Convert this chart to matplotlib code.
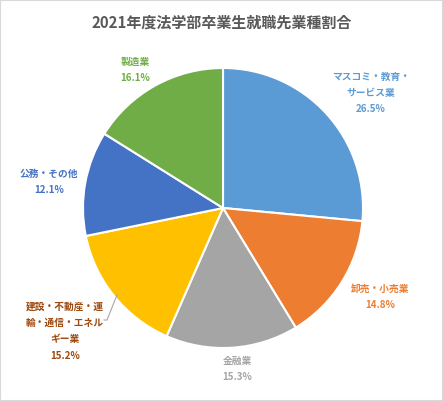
import matplotlib
matplotlib.use("Agg")
import matplotlib.pyplot as plt
from matplotlib.patches import Rectangle

plt.rcParams['font.family'] = ['Noto Sans CJK JP', 'DejaVu Sans']

title = "2021年度法学部卒業生就職先業種割合"
categories = ["マスコミ・教育・\nサービス業", "卸売・小売業", "金融業",
              "建設・不動産・運\n輸・通信・エネル\nギー業", "公務・その他", "製造業"]
values = [26.5, 14.8, 15.3, 15.2, 12.1, 16.1]
colors = ["#5B9BD5", "#ED7D31", "#A5A5A5", "#FFC000", "#4472C4", "#70AD47"]
text_colors = ["#5B9BD5", "#ED7D31", "#A5A5A5", "#9E480E", "#4472C4", "#70AD47"]
# label centers in pixel coords (x, y from top)
label_pos = [(371, 93), (380, 297), (237, 369), (65, 331), (49, 182), (135, 70)]

W, H = 443, 401
fig = plt.figure(figsize=(W / 100, H / 100), dpi=100)
ax = fig.add_axes([0, 0, 1, 1])

cx, cy, r = 223, H - 208, 140
ax.pie(values, colors=colors, startangle=90, counterclock=False,
       center=(cx, cy), radius=r, frame=True,
       wedgeprops=dict(edgecolor='white', linewidth=1.5))
ax.set_xlim(0, W)
ax.set_ylim(0, H)
ax.axis('off')

for cat, v, tc, (lx, ly) in zip(categories, values, text_colors, label_pos):
    ax.text(lx, H - ly, f"{cat}\n{v:.1f}%", ha='center', va='center',
            fontsize=7, fontweight='bold', color=tc, linespacing=1.8)

# leader line for the yellow slice label
ax.plot([104, 107, 117], [H - 320, H - 320, H - 295], color='#A6A6A6', lw=0.8)

ax.text(W / 2, H - 23, title, ha='center', va='center', fontsize=10.8,
        fontweight='bold', color='#595959')

fig.patches.append(Rectangle((0, 0), 1, 1, transform=fig.transFigure,
                             fill=False, edgecolor='#D9D9D9', lw=1.5))

fig.savefig("out.png", dpi=100)
